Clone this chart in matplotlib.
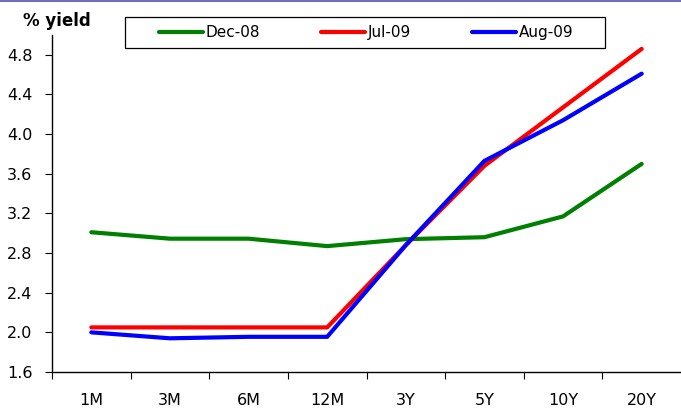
import matplotlib
matplotlib.use("Agg")
import matplotlib.pyplot as plt
from matplotlib.lines import Line2D
from matplotlib.patches import Rectangle

# yield curve values
tenors = ['1M', '3M', '6M', '12M', '3Y', '5Y', '10Y', '20Y']
dec08 = [3.01, 2.945, 2.945, 2.87, 2.94, 2.96, 3.17, 3.70]
jul09 = [2.05, 2.05, 2.05, 2.05, 2.88, 3.68, 4.27, 4.86]
aug09 = [2.00, 1.94, 1.955, 1.955, 2.88, 3.73, 4.14, 4.61]
series_names = ['Dec-08', 'Jul-09', 'Aug-09']
yticks = [1.6, 2.0, 2.4, 2.8, 3.2, 3.6, 4.0, 4.4, 4.8]

W, H = 681, 412
fig = plt.figure(figsize=(W / 100, H / 100), dpi=100)
ax = fig.add_axes([52 / W, 1 - 372 / H, 1 - 52 / W, (372 - 35) / H])

x = list(range(len(tenors)))
l1, = ax.plot(x, dec08, color='#008000', lw=3, solid_capstyle='round', solid_joinstyle='round')
l2, = ax.plot(x, jul09, color='#ff0000', lw=3, solid_capstyle='round', solid_joinstyle='round')
l3, = ax.plot(x, aug09, color='#0000ff', lw=3, solid_capstyle='round', solid_joinstyle='round')

ax.set_xlim(-0.5, len(tenors) - 0.5)
ax.set_ylim(1.6, 5.0)
ax.set_yticks(yticks)
ax.set_yticklabels(['%.1f' % v for v in yticks])
ax.set_xticks(x)
ax.set_xticklabels(tenors)
# category boundaries (last one falls on the picture's edge, not shown)
ax.set_xticks([i - 0.5 for i in range(len(tenors))], minor=True)

ax.tick_params(axis='x', which='major', length=0, pad=15, labelsize=11.5)
ax.tick_params(axis='x', which='minor', length=5, width=0.8, direction='out')
ax.tick_params(axis='y', length=5, width=0.8, direction='out', pad=9, labelsize=11.5)

for s in ['top', 'right']:
    ax.spines[s].set_visible(False)
for s in ['left', 'bottom']:
    ax.spines[s].set_linewidth(1.0)

fig.text(57 / W, 1 - 21 / H, '% yield', ha='center', va='center',
         fontsize=12, fontweight='bold')

# legend box drawn by hand, entries placed frameless inside it
fig.patches.append(Rectangle((125 / W, 1 - 48 / H), 480 / W, 31 / H,
                             transform=fig.transFigure, fill=False,
                             edgecolor='black', lw=0.9))
fig.legend([l1, l2, l3], series_names, loc='center',
           bbox_to_anchor=(366 / W, 1 - 32.5 / H), ncol=3, frameon=False,
           fontsize=11, handlelength=2.9, handletextpad=0.15,
           columnspacing=4.0, borderpad=0)

# thin band at the very top of the picture
fig.lines.append(Line2D([0, 1], [1 - 1 / H, 1 - 1 / H], transform=fig.transFigure,
                        color='#7070b8', lw=1.5))

fig.savefig('out.png', dpi=100)
